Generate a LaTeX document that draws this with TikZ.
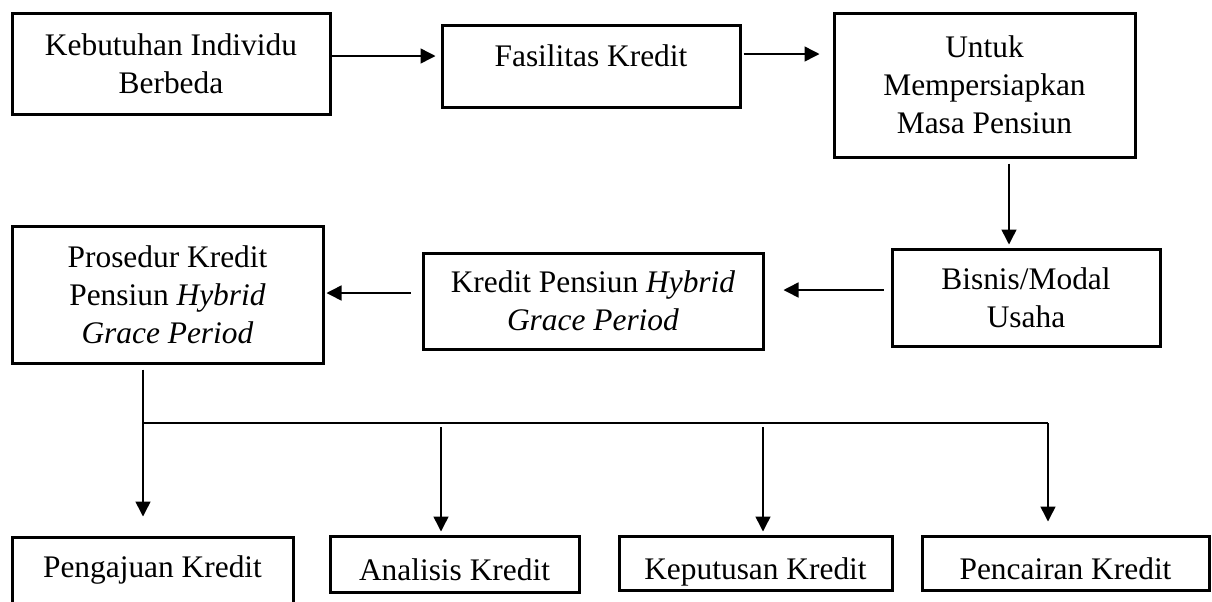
\documentclass[tikz,border=0pt]{standalone}
\usepackage{fontspec}
\setmainfont{Liberation Serif}
\usetikzlibrary{arrows.meta}

\begin{document}
\begin{tikzpicture}[x=0.5pt, y=-0.5pt,
        box/.style={draw, line width=1.5pt, align=center, inner sep=0pt, font=\fontsize{15.7}{19}\selectfont},
        lowbox/.style={box, minimum height=27pt, text height=19.8pt, text depth=3.4pt},
        conn/.style={line width=0.75pt},
        arr/.style={conn, -{Triangle[length=7.5pt, width=7.5pt]}}]
            \useasboundingbox (0,0) rectangle (1212,601);
            % top row
            \node[box, minimum width=159pt, minimum height=50.5pt] (kebutuhan) at (171,63.5) {Kebutuhan Individu\\Berbeda};
            \node[box, minimum width=149pt, minimum height=41pt, text depth=10.3pt] (fasilitas) at (591,66) {Fasilitas Kredit};
            \node[box, minimum width=150.5pt, minimum height=72pt] (persiapan) at (984.5,85) {Untuk\\Mempersiapkan\\Masa Pensiun};
            % middle row
            \node[box, minimum width=134pt, minimum height=48.5pt] (bisnis) at (1026,297.5) {Bisnis/Modal\\Usaha};
            \node[box, minimum width=170pt, minimum height=48pt] (hybrid) at (593,301) {Kredit Pensiun \textit{Hybrid}\\\textit{Grace Period}};
            \node[box, minimum width=155.5pt, minimum height=68.5pt] (prosedur) at (167.5,294.5) {Prosedur Kredit\\Pensiun \textit{Hybrid}\\\textit{Grace Period}};
            % bottom row
            \node[box, minimum width=140.5pt, minimum height=52pt, text depth=22.3pt] (pengajuan) at (152.5,589) {Pengajuan Kredit};
            \node[lowbox, minimum width=124.5pt, minimum height=28pt] (analisis) at (454.5,564) {Analisis Kredit};
            \node[lowbox, minimum width=136.5pt] (keputusan) at (755.5,563) {Keputusan Kredit};
            \node[lowbox, minimum width=143.5pt] (pencairan) at (1065.5,563) {Pencairan Kredit};

            \draw[arr, shorten >=2.5pt] ([yshift=3.75pt]kebutuhan.east) -- ([yshift=3.75pt]kebutuhan.east -| fasilitas.west);
            \draw[arr, shorten <=1pt, shorten >=6.5pt] ([yshift=6pt]fasilitas.east) -- ([yshift=6pt]fasilitas.east -| persiapan.west);
            \draw[arr, shorten <=2.5pt, shorten >=1.5pt] ([xshift=12.25pt]persiapan.south) -- ([xshift=12.25pt]persiapan.south |- bisnis.north);
            \draw[arr, shorten <=3.5pt, shorten >=9.5pt] ([yshift=3.75pt]bisnis.west) -- ([yshift=3.75pt]bisnis.west -| hybrid.east);
            \draw[arr, shorten <=5.5pt, shorten >=1pt] ([yshift=4pt]hybrid.west) -- ([yshift=4pt]hybrid.west -| prosedur.east);

            % split into the four steps
            \coordinate (split) at (143,423);
            \coordinate (busend) at (1048,423);
            \draw[conn, shorten <=2.5pt] ([xshift=-12.25pt]prosedur.south) -- (split);
            \draw[conn] (split) -- (busend);
            \draw[arr, shorten >=9.5pt] (split) -- (split |- pengajuan.north);
            \draw[arr, shorten <=2pt, shorten >=1.5pt] ([xshift=-6.75pt]analisis.north |- split) -- ([xshift=-6.75pt]analisis.north);
            \draw[arr, shorten <=2pt, shorten >=1.5pt] ([xshift=3.75pt]keputusan.north |- split) -- ([xshift=3.75pt]keputusan.north);
            \draw[arr, shorten >=6.5pt] (busend) -- (busend |- pencairan.north);
        \end{tikzpicture}
\end{document}
